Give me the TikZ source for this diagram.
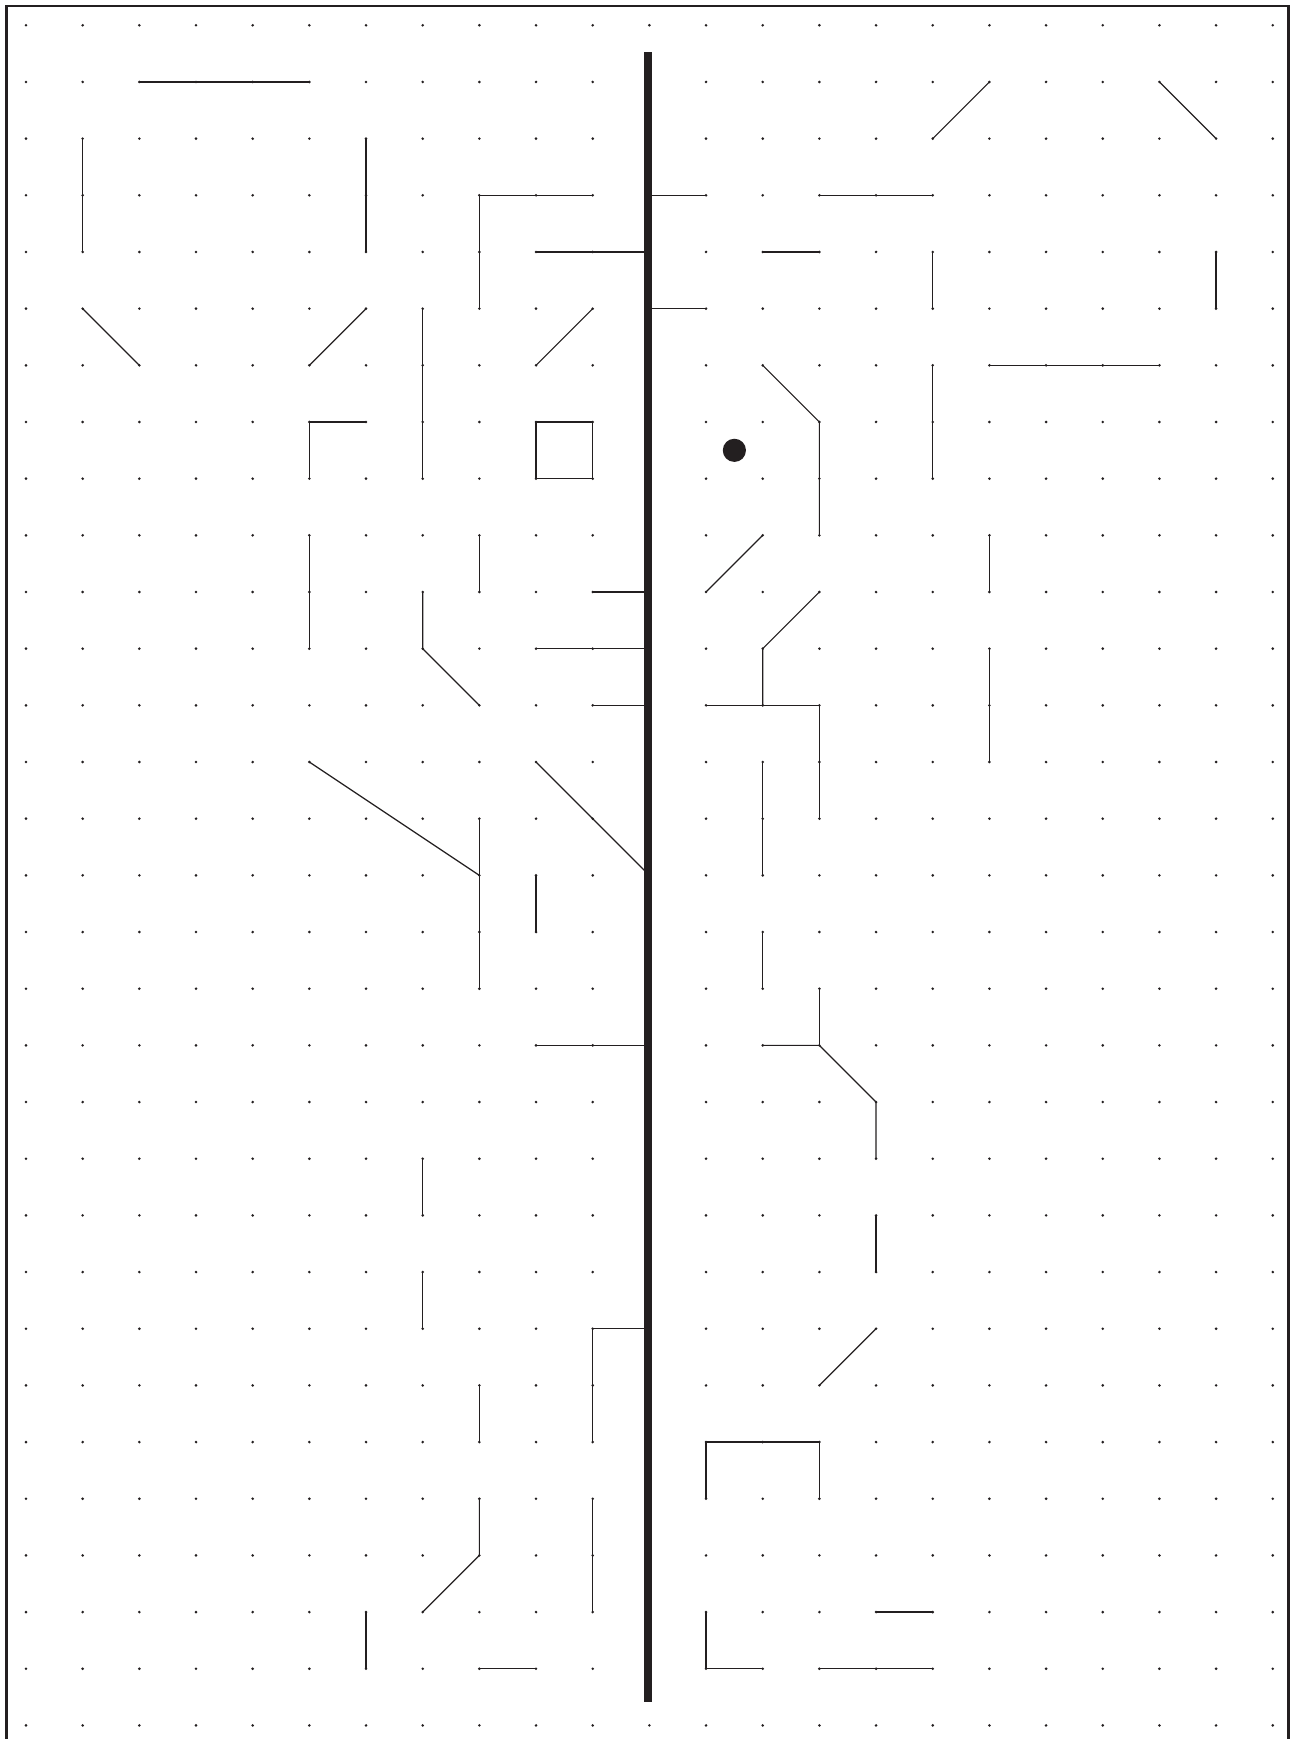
\documentclass[tikz,border=0pt]{standalone}
\definecolor{ink}{HTML}{231F20}
\tikzset{
  seg/.style={draw=ink, line width=0.6pt, line cap=round, line join=round},
  frameline/.style={draw=ink, line width=1.3pt},
  wall/.style={draw=ink, line width=4.2pt},
  griddot/.style={fill=ink}
}
\begin{document}
\begin{tikzpicture}[x=0.5pt,y=-0.5pt]
\useasboundingbox (0,0) rectangle (1297,1739);
\clip (0,0) rectangle (1297,1739);
\path[frameline] (6.5,1760) -- (6.5,6.2) -- (1288.5,6.2) -- (1288.5,1760);
\begin{scope}[shift={(13pt,-12.65pt)}, x=28.335pt, y=-28.335pt]
  % dot grid
  \foreach \c in {0,...,22} {
    \foreach \r in {0,...,30} {
      \fill[griddot] (\c,\r) circle[radius=0.72pt];
    }
  }
  % left half
  \path[seg] (2,1) -- (5,1);
  \path[seg] (1,2) -- (1,4);
  \path[seg] (6,2) -- (6,4);
  \path[seg] (10,3) -- (8,3) -- (8,5);
  \path[seg] (9,4) -- (11,4);
  \path[seg] (11,3) -- (12,3);
  \path[seg] (11,5) -- (12,5);
  \path[seg] (1,5) -- (2,6);
  \path[seg] (5,6) -- (6,5);
  \path[seg] (7,5) -- (7,8);
  \path[seg] (9,6) -- (10,5);
  \path[seg] (6,7) -- (5,7) -- (5,8);
  \path[seg] (9,7) rectangle (10,8);
  \path[seg] (5,9) -- (5,11);
  \path[seg] (8,9) -- (8,10);
  \path[seg] (7,10) -- (7,11) -- (8,12);
  \path[seg] (10,10) -- (11,10);
  \path[seg] (9,11) -- (11,11);
  \path[seg] (10,12) -- (11,12);
  \path[seg] (5,13) -- (8,15);
  \path[seg] (8,14) -- (8,17);
  \path[seg] (9,13) -- (11,15);
  \path[seg] (9,15) -- (9,16);
  \path[seg] (9,18) -- (11,18);
  \path[seg] (7,20) -- (7,21);
  \path[seg] (7,22) -- (7,23);
  \path[seg] (11,23) -- (10,23) -- (10,25);
  \path[seg] (8,24) -- (8,25);
  \path[seg] (8,26) -- (8,27) -- (7,28);
  \path[seg] (10,26) -- (10,28);
  \path[seg] (6,28) -- (6,29);
  \path[seg] (8,29) -- (9,29);
  % right half
  \path[seg] (16,2) -- (17,1);
  \path[seg] (20,1) -- (21,2);
  \path[seg] (14,3) -- (16,3);
  \path[seg] (13,4) -- (14,4);
  \path[seg] (16,4) -- (16,5);
  \path[seg] (21,4) -- (21,5);
  \path[seg] (17,6) -- (20,6);
  \path[seg] (13,6) -- (14,7) -- (14,9);
  \path[seg] (16,6) -- (16,8);
  \path[seg] (12,10) -- (13,9);
  \path[seg] (14,10) -- (13,11) -- (13,12);
  \path[seg] (12,12) -- (14,12) -- (14,14);
  \path[seg] (17,9) -- (17,10);
  \path[seg] (17,11) -- (17,13);
  \path[seg] (13,13) -- (13,15);
  \path[seg] (13,16) -- (13,17);
  \path[seg] (14,17) -- (14,18);
  \path[seg] (13,18) -- (14,18) -- (15,19) -- (15,20);
  \path[seg] (15,21) -- (15,22);
  \path[seg] (14,24) -- (15,23);
  \path[seg] (12,26) -- (12,25) -- (14,25) -- (14,26);
  \path[seg] (15,28) -- (16,28);
  \path[seg] (12,28) -- (12,29) -- (13,29);
  \path[seg] (14,29) -- (16,29);
  % central wall and marker
  \path[wall] (10.976,0.477) -- (10.976,29.58);
  \fill[ink] (12.5,7.5) circle[radius=5.8pt];
\end{scope}
\end{tikzpicture}
\end{document}
